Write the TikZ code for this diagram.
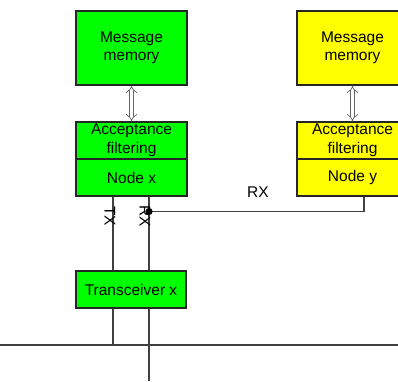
\documentclass[tikz,border=0pt]{standalone}
\usepackage{fontspec}
\setmainfont{Liberation Sans}
\usetikzlibrary{arrows.meta}
\definecolor{boxgreen}{RGB}{0,255,0}
\definecolor{boxyellow}{RGB}{255,255,0}
\tikzset{
  box/.style={draw=black!85, line width=1.1pt, minimum width=111pt, inner sep=0pt, align=center},
  wire/.style={draw=black!75, line width=1.1pt},
  dblarrow/.style={draw=black!60, line width=0.7pt, double=white, double distance=3.2pt, {Implies}-{Implies}}
}

\begin{document}
\begin{tikzpicture}[x=1pt, y=-1pt, font=\fontsize{15.5}{18.5}\selectfont]
		%%%%% START %%%%%
		
		\useasboundingbox (0, 0) rectangle (398, 381);
		\clip (0, 0) rectangle (398, 381);
		
		\node[box, fill=boxgreen, minimum height=74pt] (memx) at (131.5, 48) {Message\\memory};
		\node[box, fill=boxgreen, minimum height=37pt] (accx) at (131.5, 140.5) {Acceptance\\filtering};
		\node[box, fill=boxgreen, minimum height=37pt] (nodex) at (131.5, 177.5) {Node x};
		\draw[dblarrow] (memx) -- (accx);
		
		\node[box, fill=boxyellow, minimum height=74pt] (memy) at (352.5, 48) {Message\\memory};
		\node[box, fill=boxyellow, minimum height=37pt] (accy) at (352.5, 140.5) {Acceptance\\filtering};
		\node[box, fill=boxyellow, minimum height=37pt] (nodey) at (352.5, 177.5) {Node y};
		\draw[dblarrow] (memy) -- (accy);
		
		\node[box, fill=boxgreen, minimum width=110pt, minimum height=37pt] (trx) at (131, 289.5) {Transceiver x};
		
		\coordinate (txend) at (113, 345);
		\coordinate (rxend) at (149, 381);
		\coordinate (rxdot) at (149, 211.5);
		\coordinate (rxcorner) at (364, 211.5);
		\coordinate (busl) at (0, 345);
		\coordinate (busr) at (398, 345);
		
		\draw[wire] (nodex.south -| txend) -- (trx.north -| txend);
		\draw[wire] (trx.south -| txend) -- (txend);
		\draw[wire] (nodex.south -| rxend) -- (trx.north -| rxend);
		\draw[wire] (trx.south -| rxend) -- (rxend);
		\draw[wire] (rxdot) -- (rxcorner) -- (nodey.south -| rxcorner);
		\fill[black] (rxdot) circle (3.6);
		\draw[wire] (busl) -- (busr);
		
		\node[rotate=-90, inner sep=0pt] (txlabel) at (110, 216) {TX};
		\node[rotate=-90, inner sep=0pt] (rxlabel) at (145, 216) {RX};
		\node[inner sep=0pt] (rxtext) at (258, 192) {RX};
		
		%%%%% END %%%%%
\end{tikzpicture}
\end{document}
